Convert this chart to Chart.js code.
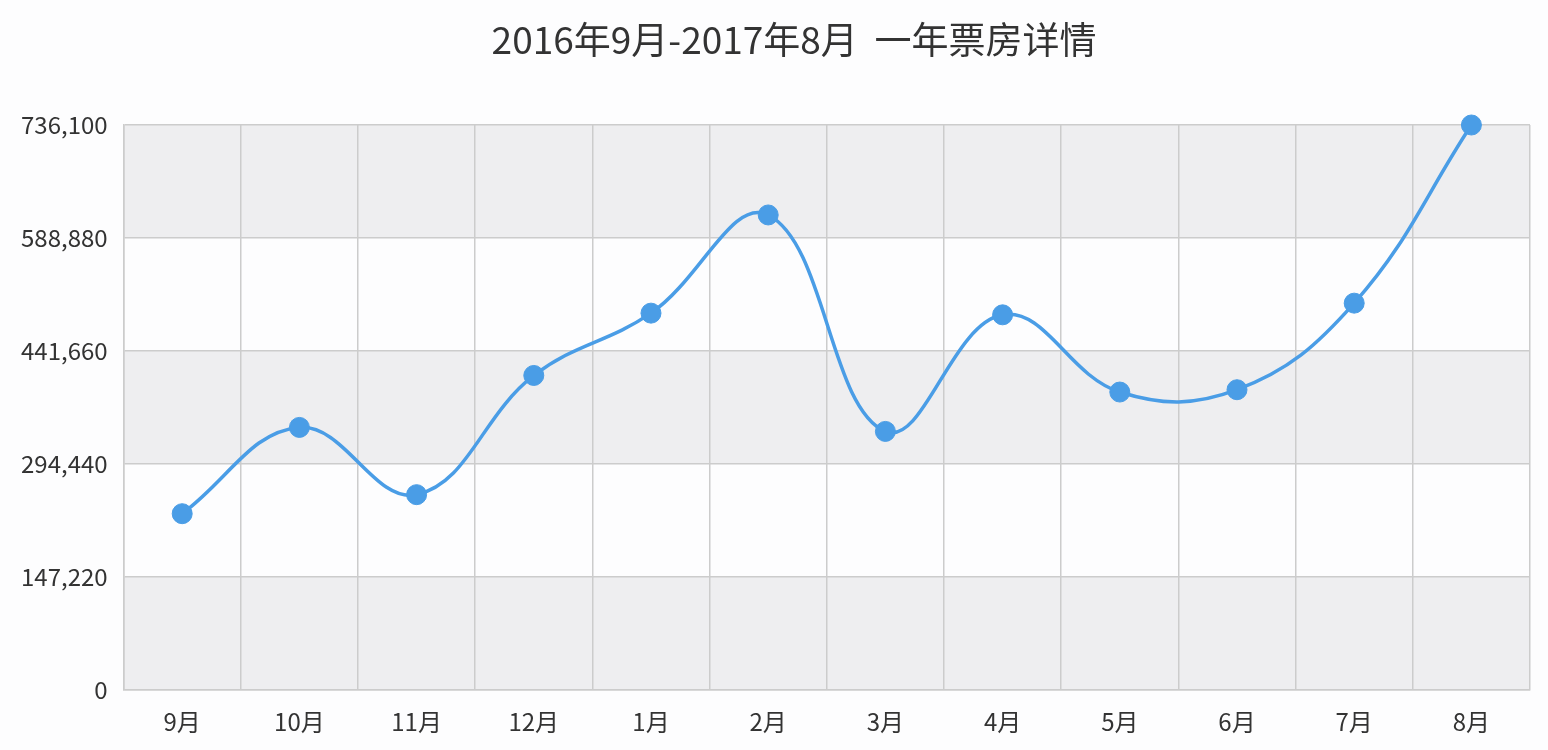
<!DOCTYPE html>
<html>
<head>
<meta charset="utf-8">
<script src="https://cdn.jsdelivr.net/npm/chart.js@4/dist/chart.umd.min.js"></script>
<style>
    html, body { margin: 0; padding: 0; background: #fdfdfe; }
    #wrap { width: 1548px; height: 750px; }
</style>
</head>
<body>
<div id="wrap"><canvas id="boxOffice"></canvas></div>
<script>
// Monthly box office, Sep 2016 - Aug 2017
const months = ['9月', '10月', '11月', '12月', '1月', '2月', '3月', '4月', '5月', '6月', '7月', '8月'];
const boxOffice = [229700, 342100, 254500, 409800, 491000, 618900, 336900, 488800, 388200, 391200, 504000, 736100];
const yMax = 736100;
const yStep = 147220;
const titleText = '2016年9月-2017年8月  一年票房详情';

const FONT = "'Noto Sans CJK SC', 'Noto Sans', sans-serif";
const lineColor = '#4a9de6';

// alternating grey bands between y grid lines
const bandPlugin = {
    id: 'bands',
    beforeDraw(chart) {
        const { ctx, chartArea, scales } = chart;
        const y = scales.y;
        ctx.save();
        ctx.fillStyle = '#fdfdfe';
        ctx.fillRect(0, 0, chart.width, chart.height);
        const ticks = y.ticks;
        for (let i = 0; i < ticks.length - 1; i++) {
            // count from the top: first band grey
            const fromTop = ticks.length - 2 - i;
            if (fromTop % 2 !== 0) continue;
            const y0 = y.getPixelForValue(ticks[i].value);
            const y1 = y.getPixelForValue(ticks[i + 1].value);
            ctx.fillStyle = '#eeeef0';
            ctx.fillRect(chartArea.left, y1, chartArea.right - chartArea.left, y0 - y1);
        }
        ctx.restore();
    }
};

// title sits a bit right of the canvas centre in the original
const titlePlugin = {
    id: 'offsetTitle',
    afterDraw(chart) {
        const ctx = chart.ctx;
        ctx.save();
        ctx.font = 'normal 37px ' + FONT;
        ctx.fillStyle = '#333';
        ctx.textAlign = 'center';
        ctx.textBaseline = 'middle';
        ctx.fillText(titleText, 794, 40);
        ctx.restore();
    }
};

new Chart(document.getElementById('boxOffice'), {
    type: 'line',
    data: {
        labels: months,
        datasets: [{
            data: boxOffice,
            borderColor: lineColor,
            backgroundColor: lineColor,
            borderWidth: 3.5,
            pointRadius: 10,
            pointBorderWidth: 1,
            pointBorderColor: lineColor,
            pointBackgroundColor: lineColor,
            tension: 0.4,
            fill: false,
            clip: false,
        }]
    },
    options: {
        responsive: true,
        maintainAspectRatio: false,
        animation: false,
        layout: { padding: { left: 5, right: 18, bottom: -4, top: 125 } },
        plugins: {
            legend: { display: false },
            tooltip: { enabled: false },
            title: { display: false }
        },
        scales: {
            x: {
                offset: true,
                grid: { color: '#cccccc', lineWidth: 1.5, offset: true, drawTicks: false },
                border: { color: '#cccccc', width: 1.5 },
                ticks: {
                    color: '#333',
                    font: { family: FONT, size: 24, lineHeight: 1 },
                    padding: 20,
                    maxRotation: 0,
                },
            },
            y: {
                min: 0,
                max: yMax,
                grid: { color: '#cccccc', lineWidth: 1.5, drawTicks: false },
                border: { color: '#cccccc', width: 1.5 },
                ticks: {
                    stepSize: yStep,
                    color: '#333',
                    font: { family: FONT, size: 24 },
                    padding: 16,
                    callback: v => v.toLocaleString('en-US'),
                },
            }
        }
    },
    plugins: [bandPlugin, titlePlugin]
});
</script>
</body>
</html>
